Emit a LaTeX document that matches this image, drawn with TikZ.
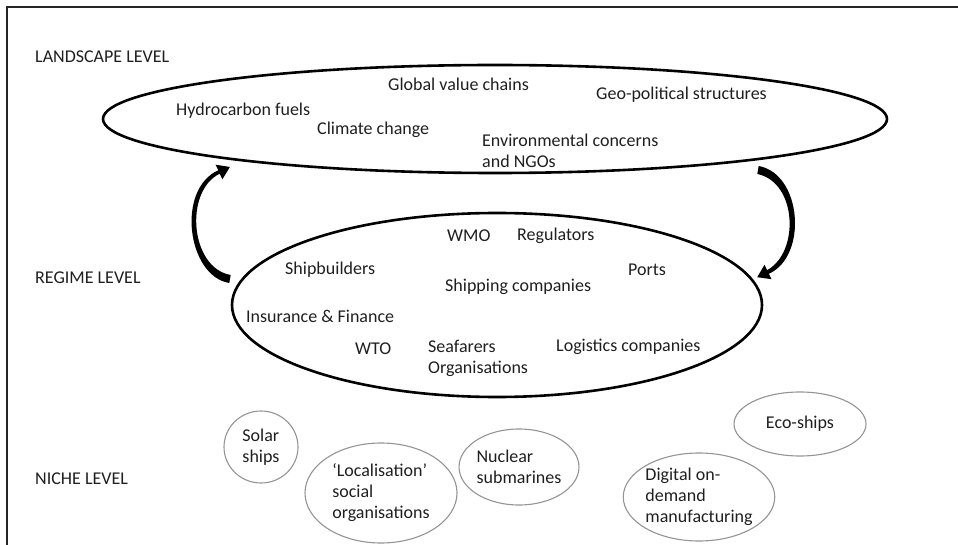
\documentclass[tikz,border=0pt]{standalone}
\usepackage{fontspec}
\setmainfont{Carlito}
\usetikzlibrary{shapes.geometric}
\begin{document}
\begin{tikzpicture}[x=1pt,y=-1pt,
  txt/.style={inner sep=0pt,font=\fontsize{18}{21}\selectfont,text=black!88,align=left},
  lbl/.style={txt,anchor=west},
  bigell/.style={ellipse,draw=black,line width=2.6pt,inner sep=0pt},
  nicheell/.style={ellipse,draw=black!42,line width=1.1pt,inner sep=0pt,txt},
  blockarrow/.style={fill=black}]
\useasboundingbox (0,0) rectangle (958,545);

% frame
\draw[line width=1.6pt,black!85] (7,545) -- (7,7) -- (958,7);

% level labels
\node[lbl] (lvl-land)  at (35,57)  {LANDSCAPE LEVEL};
\node[lbl] (lvl-reg)   at (35,278) {REGIME LEVEL};
\node[lbl] (lvl-niche) at (35,479) {NICHE LEVEL};

% landscape level
\node[bigell,minimum width=784pt,minimum height=108pt] (land) at (495,119) {};
\node[lbl] (gvc)   at (388,84)  {Global value chains};
\node[lbl] (geo)   at (596,95)  {Geo-political structures};
\node[lbl] (hydro) at (176,111) {Hydrocarbon fuels};
\node[lbl] (clim)  at (317,130) {Climate change};
\node[lbl,anchor=north west] (env) at (482,134) {Environmental concerns\\and NGOs};

% regime level
\node[bigell,minimum width=530pt,minimum height=184pt] (reg) at (497,305) {};
\node[lbl] (wmo)   at (447,236) {WMO};
\node[lbl] (regul) at (517,236) {Regulators};
\node[lbl] (shipb) at (285,270) {Shipbuilders};
\node[lbl] (ports) at (628,270) {Ports};
\node[lbl] (shipc) at (445,287) {Shipping companies};
\node[lbl] (insur) at (246,316) {Insurance \& Finance};
\node[lbl] (wto)   at (355,349) {WTO};
\node[lbl,anchor=north west] (seaf) at (428,340) {Seafarers\\Organisations};
\node[lbl] (logis) at (556,347) {Logistics companies};

% curved arrows between the two levels
\fill[blockarrow] (229.3,283) .. controls (187,276) and (176,189) .. (218.3,170.3)
  -- (215.6,164.7) -- (229.9,167) -- (222.4,179.3) -- (219.7,173.7)
  .. controls (184,191) and (190,268) .. (230.7,275) -- cycle;
\fill[blockarrow] (758.7,166) .. controls (802,174) and (808,256) .. (768.9,273.8)
  -- (771.5,279.2) -- (757.2,277.2) -- (764.5,264.8) -- (767.1,270.2)
  .. controls (800,252) and (797,182) .. (757.3,174) -- cycle;

% niche level
\node[nicheell,minimum width=74pt,minimum height=72pt] (solar) at (261,447) {Solar\\ships};
\node[nicheell,minimum width=152pt,minimum height=100pt] (local) at (381,493) {‘Localisation’\\social\\organisations};
\node[nicheell,minimum width=102pt,minimum height=76pt] (nuc) at (519,467) {Nuclear\\submarines};
\node[nicheell,minimum width=132pt,minimum height=64pt] (eco) at (800,424) {Eco-ships};
\node[nicheell,minimum width=148pt,minimum height=88pt] (digi) at (699,497) {Digital on-\\demand\\manufacturing};
\end{tikzpicture}
\end{document}
